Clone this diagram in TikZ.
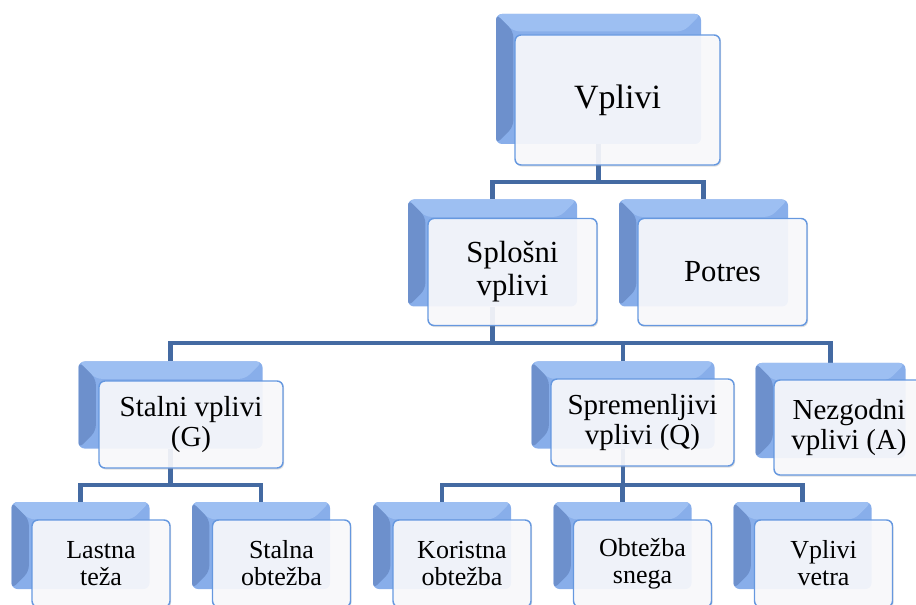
\documentclass[tikz,border=0pt]{standalone}
\usepackage{fontspec}
\setmainfont{Liberation Serif}
\usetikzlibrary{backgrounds,shadows}

\definecolor{linkblue}{HTML}{446AA2}
\definecolor{bluetop}{HTML}{9DBFF2}
\definecolor{bluemid}{HTML}{88AEEA}
\definecolor{blueside}{HTML}{6D90CC}
\definecolor{frameblue}{HTML}{6698DF}
\definecolor{facewhite}{HTML}{FBFBFE}

\tikzset{
	wh/.style 2 args={minimum width=#1*0.75pt, minimum height=#2*0.75pt},
	backbox/.style={rectangle, rounded corners=4.5pt, inner sep=0pt, fill=bluemid,
		path picture={
			\fill[bluetop] (path picture bounding box.north west) -- (path picture bounding box.north east)
				-- ++(-13pt,-13pt) -- ([shift={(13pt,-13pt)}]path picture bounding box.north west) -- cycle;
			\fill[blueside] (path picture bounding box.north west) -- ++(13pt,-13pt)
				-- ([shift={(13pt,13pt)}]path picture bounding box.south west) -- (path picture bounding box.south west) -- cycle;
		}},
	frontbox/.style={rectangle, rounded corners=4.5pt, inner sep=0pt, align=center,
		draw=frameblue, line width=1.1pt, fill=facewhite, fill opacity=0.9, text opacity=1,
		drop shadow={opacity=0.25, shadow xshift=0.8pt, shadow yshift=-1.2pt}},
	conn/.style={draw=linkblue, line width=3.4pt},
	lvone/.style={font=\fontsize{25.5pt}{30pt}\selectfont},
	lvtwo/.style={font=\fontsize{23pt}{24.75pt}\selectfont},
	lvthree/.style={font=\fontsize{21.75pt}{22pt}\selectfont},
	lvfour/.style={font=\fontsize{19.5pt}{20.25pt}\selectfont},
}

\begin{document}
\begin{tikzpicture}[x=0.75pt, y=-0.75pt]
	\useasboundingbox (0,0) rectangle (916,605);
	% top
	\node[backbox, wh={205}{130}] (b-vplivi) at (598.5,79) {};
	\node[frontbox, wh={205}{130}, lvone] (vplivi) at (617.5,100) {Vplivi};
	% second row
	\node[backbox, wh={169}{107}] (b-splosni) at (492.5,253) {};
	\node[frontbox, wh={169}{107}, lvtwo] (splosni) at (512.5,272) {Splošni\\vplivi};
	\node[backbox, wh={169}{107}] (b-potres) at (703.5,253) {};
	\node[frontbox, wh={169}{107}, lvtwo] (potres) at (722.5,272) {Potres};
	% third row
	\node[backbox, wh={184}{87}] (b-stalni) at (170.5,405) {};
	\node[frontbox, wh={184}{87}, lvthree] (stalni) at (191,424.5) {Stalni vplivi\\(G)};
	\node[backbox, wh={183}{87}] (b-spremenljivi) at (623,405) {};
	\node[frontbox, wh={183}{87}, lvthree] (spremenljivi) at (642.5,422.5) {Spremenljivi\\vplivi (Q)};
	\node[backbox, wh={150}{95}] (b-nezgodni) at (830.5,410.5) {};
	\node[frontbox, wh={150}{95}, lvthree] (nezgodni) at (849,427.5) {Nezgodni\\vplivi (A)};
	% bottom row
	\node[backbox, wh={138}{87}] (b-lastna) at (80.5,545.5) {};
	\node[frontbox, wh={138}{87}, lvfour] (lastna) at (101,563.5) {Lastna\\teža};
	\node[backbox, wh={138}{87}] (b-stalnaobt) at (261,545.5) {};
	\node[frontbox, wh={138}{87}, lvfour] (stalnaobt) at (281.5,563.5) {Stalna\\obtežba};
	\node[backbox, wh={138}{87}] (b-koristna) at (442,545.5) {};
	\node[frontbox, wh={138}{87}, lvfour] (koristna) at (462,563.5) {Koristna\\obtežba};
	\node[backbox, wh={138}{87}] (b-sneg) at (622.5,545.5) {};
	\node[frontbox, wh={138}{87}, lvfour] (sneg) at (642.5,563.5) {Obtežba\\snega};
	\node[backbox, wh={138}{87}] (b-veter) at (802.5,545.5) {};
	\node[frontbox, wh={138}{87}, lvfour] (veter) at (823.5,563.5) {Vplivi\\vetra};
	% connectors
	\coordinate (bus1) at (0,182);
	\coordinate (bus2) at (0,343);
	\coordinate (bus3) at (0,485);
	\begin{scope}[on background layer]
		\draw[conn] (b-vplivi.south) -- (b-vplivi.south |- bus1) -| (b-splosni.north);
		\draw[conn] (b-vplivi.south) -- (b-vplivi.south |- bus1) -| (b-potres.north);
		\draw[conn] (b-splosni.south) -- (b-splosni.south |- bus2) -| (b-stalni.north);
		\draw[conn] (b-splosni.south) -- (b-splosni.south |- bus2) -| (b-spremenljivi.north);
		\draw[conn] (b-splosni.south) -- (b-splosni.south |- bus2) -| (b-nezgodni.north);
		\draw[conn] (b-stalni.south) -- (b-stalni.south |- bus3) -| (b-lastna.north);
		\draw[conn] (b-stalni.south) -- (b-stalni.south |- bus3) -| (b-stalnaobt.north);
		\draw[conn] (b-spremenljivi.south) -- (b-spremenljivi.south |- bus3) -| (b-koristna.north);
		\draw[conn] (b-spremenljivi.south) -- (b-spremenljivi.south |- bus3) -| (b-sneg.north);
		\draw[conn] (b-spremenljivi.south) -- (b-spremenljivi.south |- bus3) -| (b-veter.north);
	\end{scope}
\end{tikzpicture}
\end{document}
